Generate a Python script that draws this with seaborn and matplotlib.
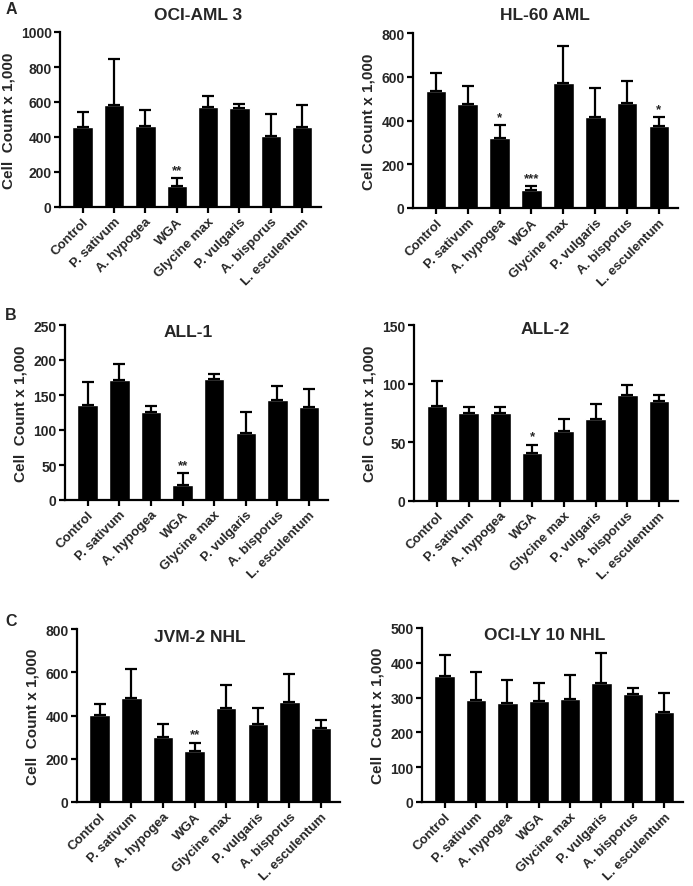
import matplotlib
matplotlib.use("Agg")
import matplotlib.pyplot as plt
import seaborn as sns
import numpy as np
import pandas as pd

sns.set_theme(style="ticks")
plt.rcParams['font.family'] = ['Liberation Sans', 'DejaVu Sans']
plt.rcParams['font.weight'] = 'bold'

categories = ["Control", "P. sativum", "A. hypogea", "WGA", "Glycine max",
              "P. vulgaris", "A. bisporus", "L. esculentum"]

titles = ["OCI-AML 3", "HL-60 AML", "ALL-1", "ALL-2", "JVM-2 NHL", "OCI-LY 10 NHL"]

oci_aml3_mean = [460, 585, 465, 120, 570, 568, 405, 460]
oci_aml3_top = [543, 845, 555, 165, 635, 590, 530, 585]
hl60_mean = [535, 476, 318, 82, 573, 415, 480, 377]
hl60_top = [615, 558, 380, 100, 740, 548, 580, 417]
all1_mean = [136, 171, 126, 22, 173, 96, 143, 133]
all1_top = [169, 195, 134, 38, 180, 126, 163, 158]
all2_mean = [81, 75, 75, 41, 60, 70, 90, 85]
all2_top = [102, 80, 80, 48, 70, 83, 99, 90]
jvm2_mean = [402, 480, 302, 236, 434, 359, 462, 340]
jvm2_top = [452, 615, 362, 275, 543, 435, 592, 380]
ocily10_mean = [362, 292, 285, 290, 295, 341, 310, 258]
ocily10_top = [422, 373, 350, 343, 364, 428, 328, 314]

stars_aml3 = ["", "", "", "**", "", "", "", ""]
stars_hl60 = ["", "", "*", "***", "", "", "", "*"]
stars_all1 = ["", "", "", "**", "", "", "", ""]
stars_all2 = ["", "", "", "*", "", "", "", ""]
stars_jvm2 = ["", "", "", "**", "", "", "", ""]
stars_ocily = ["", "", "", "", "", "", "", ""]

ymax = [1000, 800, 250, 150, 800, 500]
ystep = [200, 200, 50, 50, 200, 100]

means = [oci_aml3_mean, hl60_mean, all1_mean, all2_mean, jvm2_mean, ocily10_mean]
tops = [oci_aml3_top, hl60_top, all1_top, all2_top, jvm2_top, ocily10_top]
stars = [stars_aml3, stars_hl60, stars_all1, stars_all2, stars_jvm2, stars_ocily]

W, H = 693, 887
fig = plt.figure(figsize=(W / 100, H / 100), dpi=100)

# pixel boxes: (left, top, right, bottom)
boxes = [(60, 33, 321, 208), (413, 34, 678, 209),
         (65, 326, 328, 501), (414, 326, 678, 502),
         (77, 630, 340, 803), (422, 629, 683, 803)]
title_pos = [(198, 15), (545, 15), (188, 333), (545, 330), (200, 637), (545, 636)]

for i, (l, t, r, b) in enumerate(boxes):
    ax = fig.add_axes([l / W, 1 - b / H, (r - l) / W, (b - t) / H])
    df = pd.DataFrame({"cat": categories, "val": means[i]})
    sns.barplot(data=df, x="cat", y="val", color="black", width=0.65,
                saturation=1, ax=ax, errorbar=None)
    x = np.arange(len(categories))
    m = np.array(means[i])
    up = np.array(tops[i]) - m
    ax.errorbar(x, m, yerr=[np.zeros_like(up), up], fmt="none", ecolor="black",
                elinewidth=1.6, capsize=4.5, capthick=1.6)
    for xi, s, tp in zip(x, stars[i], tops[i]):
        if s:
            ax.text(xi, tp + ymax[i] * 0.012, s, ha="center", va="bottom",
                    fontsize=9.5, fontweight="bold")
    ax.set_ylim(0, ymax[i])
    ax.set_yticks(np.arange(0, ymax[i] + 1, ystep[i]))
    ax.set_xlim(-0.72, 7.6)
    ax.set_xlabel("")
    ax.set_ylabel("Cell  Count x 1,000", fontsize=11, fontweight="bold", labelpad=4)
    ax.set_xticks(x)
    ax.set_xticklabels(categories, rotation=45, ha="right", rotation_mode="anchor",
                       fontsize=9.5, fontweight="bold")
    for lab in ax.get_yticklabels():
        lab.set_fontweight("bold")
        lab.set_fontsize(10)
    sns.despine(ax=ax)
    for sp in ["left", "bottom"]:
        ax.spines[sp].set_linewidth(1.6)
        ax.spines[sp].set_color("black")
    ax.tick_params(axis="both", direction="out", length=4, width=1.6, color="black", pad=2)
    tx, ty = title_pos[i]
    fig.text(tx / W, 1 - ty / H, titles[i], ha="center", va="center",
             fontsize=12.5, fontweight="bold")

for letter, (lx, ly) in zip(["A", "B", "C"], [(11, 10), (11, 316), (11, 622)]):
    fig.text(lx / W, 1 - ly / H, letter, ha="center", va="center",
             fontsize=11.5, fontweight="bold")

fig.savefig("out.png", dpi=100, facecolor="white")
